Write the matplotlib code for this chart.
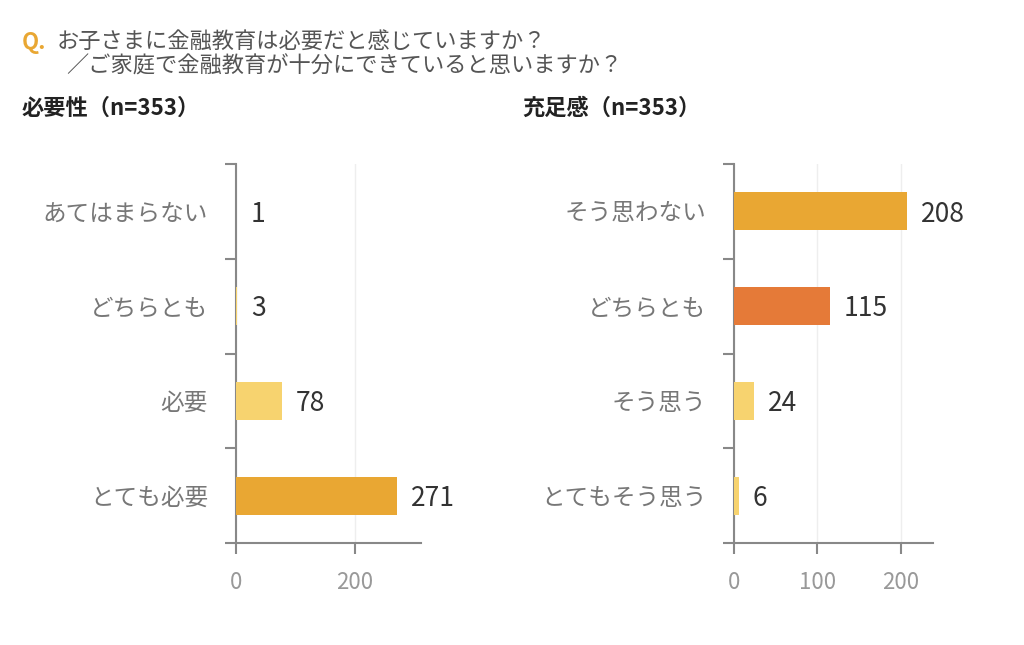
import matplotlib
matplotlib.use('Agg')
import matplotlib.pyplot as plt

plt.rcParams['font.family'] = ['Noto Sans CJK JP', 'DejaVu Sans']

# 必要性
need_labels = ['あてはまらない', 'どちらとも', '必要', 'とても必要']
need_values = [1, 3, 78, 271]
# 充足感
enough_labels = ['そう思わない', 'どちらとも', 'そう思う', 'とてもそう思う']
enough_values = [208, 115, 24, 6]

ORANGE = '#E9A733'
DARK = '#E57A38'
LIGHT = '#F7D36F'
need_colors = [LIGHT, LIGHT, LIGHT, ORANGE]
enough_colors = [ORANGE, DARK, LIGHT, LIGHT]

fig = plt.figure(figsize=(10.24, 6.45), dpi=100)

fig.text(22 / 1024, 1 - 42 / 645, 'Q.', color=ORANGE, fontsize=16,
         fontweight='bold', va='center')
fig.text(57 / 1024, 1 - 42 / 645, 'お子さまに金融教育は必要だと感じていますか？',
         color='#555555', fontsize=16, va='center')
fig.text(66 / 1024, 1 - 66 / 645, '／ご家庭で金融教育が十分にできていると思いますか？',
         color='#555555', fontsize=16, va='center')
fig.text(22 / 1024, 1 - 108 / 645, '必要性（n=353）', color='#222222',
         fontsize=16, fontweight='bold', va='center')
fig.text(522 / 1024, 1 - 108 / 645, '充足感（n=353）', color='#222222',
         fontsize=16, fontweight='bold', va='center')


def draw(ax, labels, values, colors, xmax, xticks):
    pos = list(range(len(labels)))
    ax.barh(pos, values, height=0.4, color=colors, zorder=3)
    ax.set_ylim(len(labels) - 0.5, -0.5)
    ax.set_xlim(0, xmax)
    ax.set_yticks(pos)
    ax.set_yticklabels(labels, fontsize=17, color='#777777')
    ax.set_yticks([p - 0.5 for p in pos] + [len(labels) - 0.5], minor=True)
    ax.tick_params(axis='y', which='major', length=0, pad=20)
    ax.tick_params(axis='y', which='minor', length=8, width=1.5, color='#888888')
    ax.set_xticks(xticks)
    ax.tick_params(axis='x', length=8, width=1.5, color='#888888',
                   labelsize=16, labelcolor='#999999', pad=12)
    for s in ['top', 'right']:
        ax.spines[s].set_visible(False)
    for s in ['left', 'bottom']:
        ax.spines[s].set_color('#888888')
        ax.spines[s].set_linewidth(1.5)
    ax.grid(axis='x', color='#eeeeee', linewidth=1, zorder=0)
    for p, v in zip(pos, values):
        ax.annotate(str(v), (v, p), xytext=(10, -2), textcoords='offset points',
                    va='center', ha='left', fontsize=19, color='#333333')


ax1 = fig.add_axes([235.7 / 1024, 1 - 543 / 645, (421 - 235.7) / 1024, 379 / 645])
draw(ax1, need_labels, need_values, need_colors, 311, [0, 200])

ax2 = fig.add_axes([734 / 1024, 1 - 543 / 645, (933.3 - 734) / 1024, 379 / 645])
draw(ax2, enough_labels, enough_values, enough_colors, 239, [0, 100, 200])

fig.savefig('out.png', dpi=100)
